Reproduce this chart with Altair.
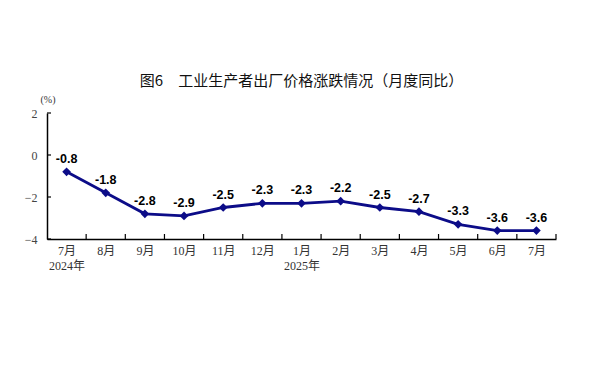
import json
import altair as alt
import pandas as pd

months = ["7月", "8月", "9月", "10月", "11月", "12月", "1月", "2月", "3月", "4月", "5月", "6月", "7月"]
years = ["2024年", "", "", "", "", "", "2025年", "", "", "", "", "", ""]
values = [-0.8, -1.8, -2.8, -2.9, -2.5, -2.3, -2.3, -2.2, -2.5, -2.7, -3.3, -3.6, -3.6]
y_ticks = [-4, -2, 0, 2]

n = len(months)
df = pd.DataFrame({"pos": [i + 0.5 for i in range(n)], "value": values,
                   "label": [f"{v:.1f}" for v in values]})
bounds = pd.DataFrame({"b": list(range(1, n + 1))})
yt = pd.DataFrame({"t": y_ticks})

W, H = 509, 126
LINE = "#0c0c88"
SERIF = "Liberation Serif, Noto Sans CJK SC"

label_expr = ("[" + ",".join(
    f"[{json.dumps(m, ensure_ascii=False)},{json.dumps(y, ensure_ascii=False)}]"
    for m, y in zip(months, years)) + "][floor(datum.value)]")

xscale = alt.Scale(domain=[0, n], nice=False, zero=False)
yscale = alt.Scale(domain=[-4, 2], nice=False)

x_enc = alt.X("pos:Q", scale=xscale, axis=alt.Axis(
    values=[i + 0.5 for i in range(n)], labelExpr=label_expr, ticks=False,
    grid=False, title=None, domainColor="black", domainWidth=1.5,
    labelFont=SERIF, labelFontSize=12, labelColor="#333333",
    labelPadding=6, labelLineHeight=15, labelBaseline="top"))
y_enc = alt.Y("value:Q", scale=yscale, axis=alt.Axis(
    values=y_ticks, ticks=False, grid=False, title=None,
    domainColor="black", domainWidth=1.5, labelFont=SERIF, labelFontSize=12,
    labelColor="#444444", labelPadding=10))

line = alt.Chart(df).mark_line(color=LINE, strokeWidth=2.8).encode(x=x_enc, y=y_enc)
pts = alt.Chart(df).mark_point(shape="diamond", filled=True, size=75, color=LINE,
                               opacity=1).encode(x="pos:Q", y="value:Q")
labels = alt.Chart(df).mark_text(font="Liberation Sans", fontWeight="bold", fontSize=12.5,
                                 color="black", dy=-13).encode(
    x="pos:Q", y="value:Q", text="label:N")

xt = alt.Chart(bounds).mark_rule(color="black", strokeWidth=1.2).encode(
    x=alt.X("b:Q", scale=xscale), y=alt.value(H), y2=alt.value(H - 5))
ytk = alt.Chart(yt).mark_rule(color="black", strokeWidth=1.2).encode(
    y=alt.Y("t:Q", scale=yscale), x=alt.value(0), x2=alt.value(4))
unit = alt.Chart(pd.DataFrame({"u": ["(%)"]})).mark_text(
    font=SERIF, fontSize=10, color="#333333").encode(
    text="u:N", x=alt.value(1), y=alt.value(-13))

chart = alt.layer(line, pts, labels, xt, ytk, unit).properties(
    width=W, height=H,
    title=alt.TitleParams("图6　工业生产者出厂价格涨跌情况（月度同比）",
                          font="Noto Sans CJK SC", fontSize=15, fontWeight="normal",
                          color="#111111", anchor="middle", offset=6),
    autosize=alt.AutoSizeParams(type="none"),
    padding={"left": 39, "top": 105, "right": 20, "bottom": 100},
).configure_view(stroke=None)

chart.save("out.html", embed_options={"renderer": "svg", "actions": False})
